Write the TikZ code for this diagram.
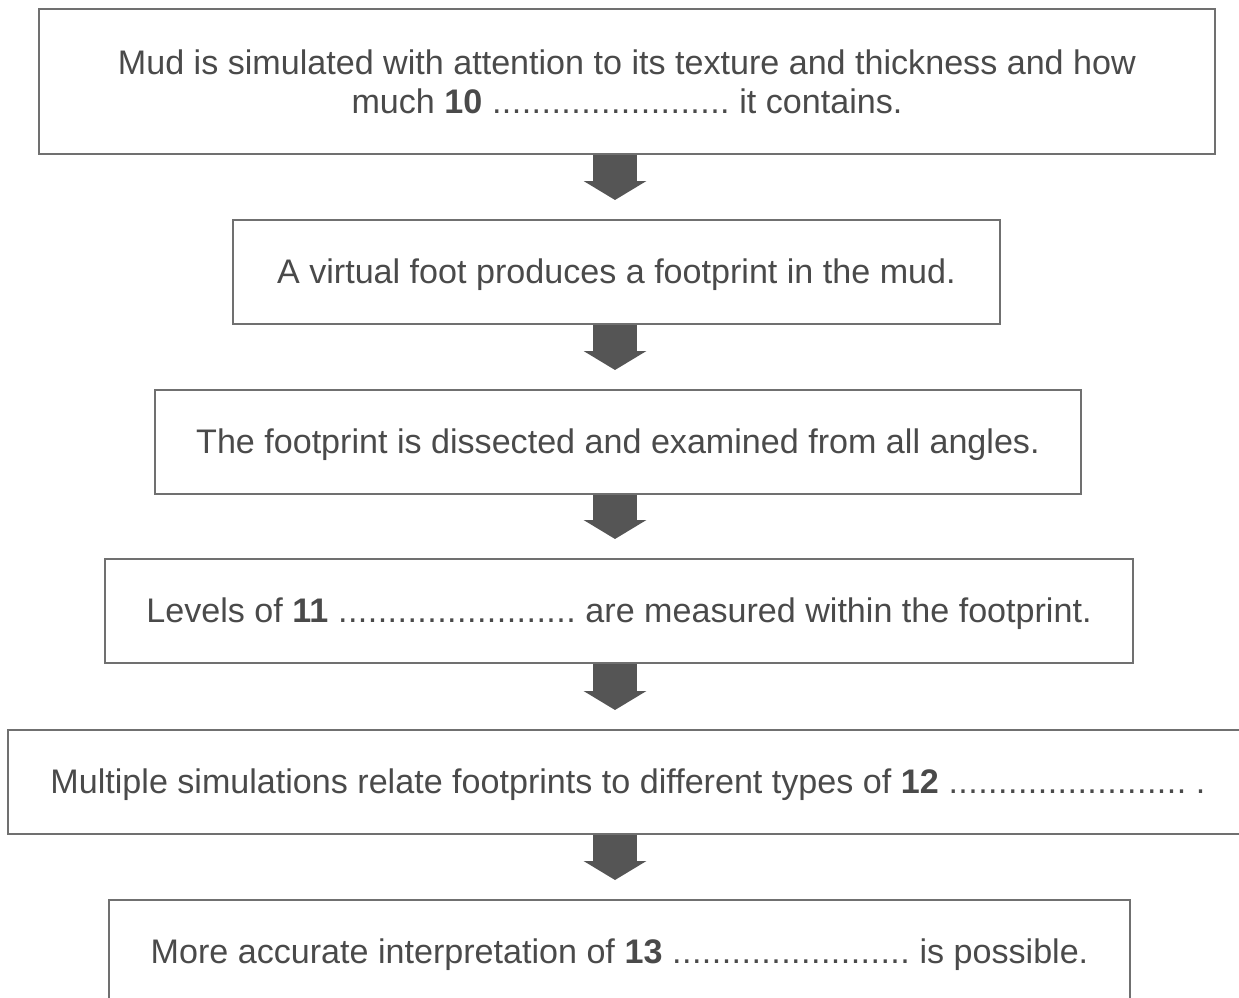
\documentclass[tikz,border=0pt]{standalone}
\usepackage{fontspec}
\setmainfont{Liberation Sans}
\usetikzlibrary{arrows.meta}
\definecolor{txt}{HTML}{4A4A4A}
\definecolor{edge}{HTML}{707070}
\definecolor{arr}{HTML}{555555}
\newcommand\gapdots{\hbox{\xleaders\hbox to 9.9pt{\hss.\hss}\hskip 238pt}}
\tikzset{
  stepbox/.style={draw=edge, line width=1.8pt, anchor=north west, inner sep=0pt,
    text=txt, font=\fontsize{34.1}{39}\selectfont, align=center},
  onebox/.style={stepbox, minimum height=104pt, text height=31pt, text depth=7pt},
  bigarrow/.style={draw=arr, line width=44pt, line cap=butt,
    -{Triangle[width=62pt,length=19pt]}, shorten >=19pt}
}
\begin{document}
\begin{tikzpicture}[x=1pt,y=-1pt]
\useasboundingbox (0,0) rectangle (1239,998);
\node[stepbox, minimum width=1176pt, minimum height=145pt] (b1) at (38,8)
  {Mud is simulated with attention to its texture and thickness and how\\
   much \textbf{10} \gapdots{} it contains.};
\node[onebox, minimum width=767pt] (b2) at (232,219)
  {A virtual foot produces a footprint in the mud.};
\node[onebox, minimum width=926pt] (b3) at (154,389)
  {The footprint is dissected and examined from all angles.};
\node[onebox, minimum width=1028pt] (b4) at (104,558)
  {Levels of \textbf{11} \gapdots{} are measured within the footprint.};
\node[onebox, minimum width=1240pt] (b5) at (7,729)
  {Multiple simulations relate footprints to different types of \textbf{12} \gapdots{} .};
\node[onebox, minimum width=1021pt] (b6) at (108,899)
  {More accurate interpretation of \textbf{13} \gapdots{} is possible.};
\coordinate (ax) at (615,0);
\draw[bigarrow] (b1.south -| ax) -- (b2.north -| ax);
\draw[bigarrow] (b2.south -| ax) -- (b3.north -| ax);
\draw[bigarrow] (b3.south -| ax) -- (b4.north -| ax);
\draw[bigarrow] (b4.south -| ax) -- (b5.north -| ax);
\draw[bigarrow] (b5.south -| ax) -- (b6.north -| ax);
\end{tikzpicture}
\end{document}
